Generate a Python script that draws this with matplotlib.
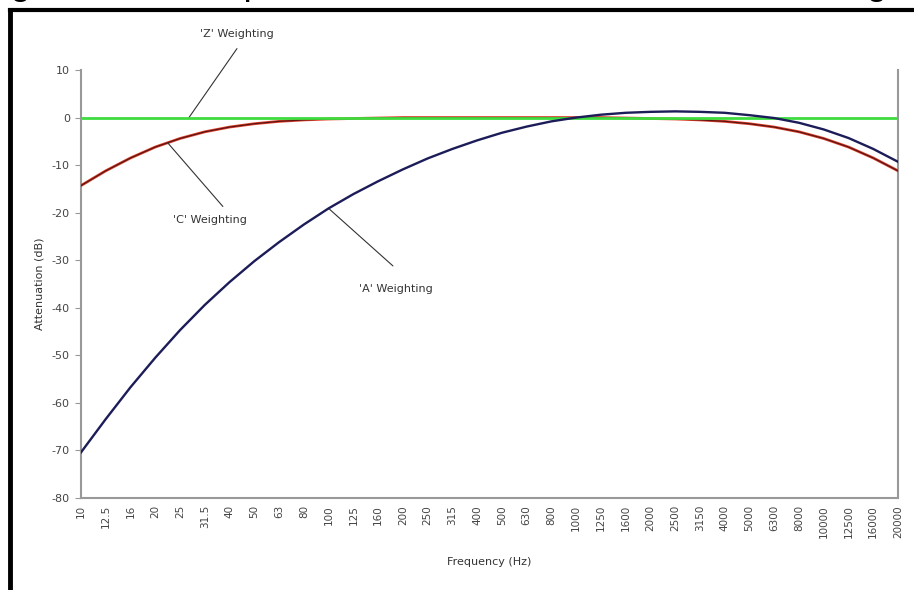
import matplotlib
matplotlib.use("Agg")
import matplotlib.pyplot as plt
from matplotlib.lines import Line2D
import matplotlib.patheffects as pe

freqs = ["10", "12.5", "16", "20", "25", "31.5", "40", "50", "63", "80",
         "100", "125", "160", "200", "250", "315", "400", "500", "630", "800",
         "1000", "1250", "1600", "2000", "2500", "3150", "4000", "5000", "6300", "8000",
         "10000", "12500", "16000", "20000"]

a_weight = [-70.4, -63.4, -56.7, -50.5, -44.7, -39.4, -34.6, -30.2, -26.2, -22.5,
            -19.1, -16.1, -13.4, -10.9, -8.6, -6.6, -4.8, -3.2, -1.9, -0.8,
            0.0, 0.6, 1.0, 1.2, 1.3, 1.2, 1.0, 0.5, -0.1, -1.1,
            -2.5, -4.3, -6.6, -9.3]

c_weight = [-14.3, -11.2, -8.5, -6.2, -4.4, -3.0, -2.0, -1.3, -0.8, -0.5,
            -0.3, -0.2, -0.1, 0.0, 0.0, 0.0, 0.0, 0.0, 0.0, 0.0,
            0.0, 0.0, -0.1, -0.2, -0.3, -0.5, -0.8, -1.3, -2.0, -3.0,
            -4.4, -6.2, -8.5, -11.2]

z_weight = [0.0] * len(freqs)

y_ticks = [10, 0, -10, -20, -30, -40, -50, -60, -70, -80]

W, H = 914, 590
fig = plt.figure(figsize=(W / 100, H / 100), dpi=100)
fig.patch.set_facecolor("white")

# cropped title above the frame (only descenders visible, as in the reference)
fig.text(-135 / W, 1 + 5.5 / H, "Weighting curves: comparison of A, C and the Z network weighting",
         fontsize=27, family="Liberation Sans", color="black", ha="left", va="baseline")

# black frame (left and top edges visible)
fig.add_artist(Line2D([10 / W, 10 / W], [0, 1 - 10 / H], color="black", lw=3.5,
                      transform=fig.transFigure, solid_capstyle="projecting"))
fig.add_artist(Line2D([10 / W, 1.0], [1 - 10 / H, 1 - 10 / H], color="black", lw=3,
                      transform=fig.transFigure, solid_capstyle="projecting"))

ax = fig.add_axes([81 / W, 1 - 498 / H, (898 - 81) / W, (498 - 70) / H])
x = list(range(len(freqs)))

ax.plot(x, c_weight, color="#5a1414", lw=0.9, zorder=3,
        path_effects=[pe.Stroke(linewidth=2.0, foreground="#e0402a"), pe.Normal()])
ax.plot(x, z_weight, color="#3fdc3f", lw=2.0, zorder=4)
ax.plot(x, a_weight, color="#1c1c58", lw=1.7, zorder=5)

ax.set_xlim(0, len(freqs) - 1)
ax.set_ylim(-80, 10)
ax.set_xticks(x)
ax.set_xticklabels(freqs, rotation=90, fontsize=7.5, color="#444444")
ax.set_yticks(y_ticks)
ax.set_yticklabels([str(v) for v in y_ticks], fontsize=8, color="#444444")
ax.tick_params(axis="x", length=0, pad=5)
ax.tick_params(axis="y", length=4, width=0.8, color="#999999", pad=4)

for s in ["left", "bottom", "right"]:
    ax.spines[s].set_color("#999999")
    ax.spines[s].set_linewidth(1.5)
ax.spines["top"].set_visible(False)

ax.set_xlabel("Frequency (Hz)", fontsize=8, color="#333333", labelpad=14)
ax.set_ylabel("Attenuation (dB)", fontsize=8, color="#333333", labelpad=5)

line_kw = dict(arrowprops=dict(arrowstyle="-", color="#333333", lw=0.8, shrinkA=0, shrinkB=0),
               annotation_clip=False)
txt_kw = dict(fontsize=8, color="#333333", ha="center", va="center", clip_on=False)

ax.text(6.3, 17.6, "'Z' Weighting", **txt_kw)
ax.annotate("", xy=(4.36, z_weight[4]), xytext=(6.3, 14.5), **line_kw)
ax.text(5.21, -21.6, "'C' Weighting", **txt_kw)
ax.annotate("", xy=(3.5, -5.3), xytext=(5.73, -18.7), **line_kw)
ax.text(12.72, -36.1, "'A' Weighting", **txt_kw)
ax.annotate("", xy=(10, a_weight[10]), xytext=(12.6, -31.2), **line_kw)

fig.savefig("out.png", dpi=100, facecolor="white")
